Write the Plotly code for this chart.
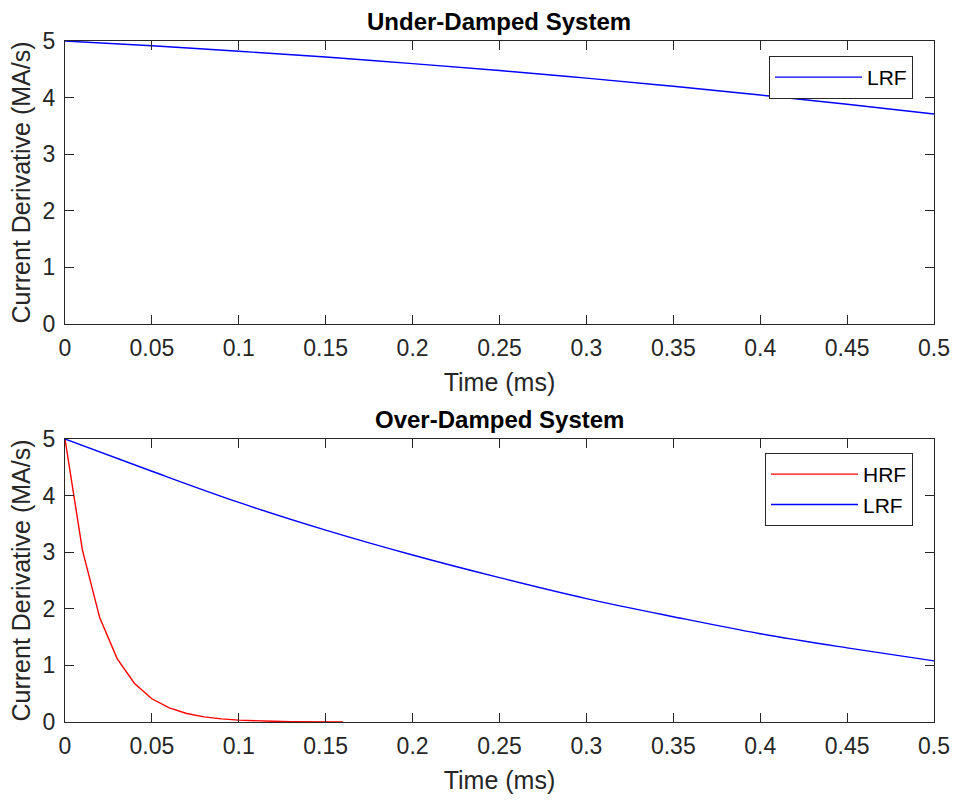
import plotly.graph_objects as go

# Under-damped system (top)
t_under = [0, 0.05, 0.1, 0.15, 0.2, 0.25, 0.3, 0.35, 0.4, 0.45, 0.5]
lrf_under = [5.0, 4.915, 4.82, 4.716, 4.60, 4.478, 4.344, 4.20, 4.046, 3.883, 3.71]

# Over-damped system (bottom)
t_over_lrf = [0, 0.05, 0.1, 0.15, 0.2, 0.25, 0.3, 0.35, 0.4, 0.45, 0.5]
lrf_over = [5.0, 4.43, 3.88, 3.39, 2.95, 2.55, 2.18, 1.86, 1.56, 1.31, 1.08]

t_hrf = [0, 0.01, 0.02, 0.03, 0.04, 0.05, 0.06, 0.07, 0.08, 0.09, 0.10,
         0.11, 0.12, 0.13, 0.14, 0.15, 0.16]
hrf_over = [5.0, 3.04, 1.84, 1.12, 0.68, 0.41, 0.25, 0.15, 0.09, 0.055, 0.034,
            0.02, 0.012, 0.0075, 0.0046, 0.0028, 0.0017]

x_ticks = [0, 0.05, 0.1, 0.15, 0.2, 0.25, 0.3, 0.35, 0.4, 0.45, 0.5]
x_ticktext = ["0", "0.05", "0.1", "0.15", "0.2", "0.25", "0.3", "0.35", "0.4", "0.45", "0.5"]
y_ticks = [0, 1, 2, 3, 4, 5]

titles = ["Under-Damped System", "Over-Damped System"]
x_label = "Time (ms)"
y_label = "Current Derivative (MA/s)"

FONT = "Liberation Sans, Arial, sans-serif"
AX = "#262626"

fig = go.Figure()
fig.add_trace(go.Scatter(x=t_under, y=lrf_under, mode="lines", name="LRF",
                         line=dict(color="#0000FF", width=1.4, shape="spline"),
                         xaxis="x", yaxis="y", legend="legend", showlegend=True))
fig.add_trace(go.Scatter(x=t_hrf, y=hrf_over, mode="lines", name="HRF",
                         line=dict(color="#FF0000", width=1.4),
                         xaxis="x2", yaxis="y2", legend="legend2", showlegend=True))
fig.add_trace(go.Scatter(x=t_over_lrf, y=lrf_over, mode="lines", name="LRF",
                         line=dict(color="#0000FF", width=1.4, shape="spline"),
                         xaxis="x2", yaxis="y2", legend="legend2", showlegend=True))

xd = [65 / 955, 934 / 955]
yd1 = [1 - 324 / 800, 1 - 41 / 800]
yd2 = [1 - 722 / 800, 1 - 439 / 800]

def xaxis(domain, anchor):
    return dict(domain=domain, anchor=anchor, range=[0, 0.5], automargin=False,
                tickvals=x_ticks, ticktext=x_ticktext,
                ticks="inside", ticklen=9, tickcolor=AX, tickwidth=1.3,
                showline=True, linecolor=AX, linewidth=1, mirror="ticks",
                showgrid=False, zeroline=False, ticklabelstandoff=3,
                tickfont=dict(family=FONT, size=23, color=AX),
                title=dict(text=x_label, font=dict(family=FONT, size=25, color=AX), standoff=13))

def yaxis(domain, anchor):
    return dict(domain=domain, anchor=anchor, range=[0, 5], automargin=False,
                tickvals=y_ticks,
                ticks="inside", ticklen=9, tickcolor=AX, tickwidth=1.3,
                showline=True, linecolor=AX, linewidth=1, mirror="ticks",
                showgrid=False, zeroline=False, ticklabelstandoff=4,
                tickfont=dict(family=FONT, size=23, color=AX),
                title=dict(text=y_label, font=dict(family=FONT, size=25, color=AX), standoff=4))

leg_common = dict(bgcolor="white", bordercolor=AX, borderwidth=1,
                  font=dict(family=FONT, size=21, color="black"),
                  xanchor="right", yanchor="top", tracegroupgap=0, itemwidth=87)

fig.update_layout(
    width=955, height=800,
    margin=dict(l=0, r=0, t=0, b=0),
    paper_bgcolor="white", plot_bgcolor="white",
    showlegend=True,
    xaxis=xaxis(xd, "y"), yaxis=yaxis(yd1, "x"),
    xaxis2=xaxis(xd, "y2"), yaxis2=yaxis(yd2, "x2"),
    legend=dict(x=913 / 955, y=1 - 56 / 800, **leg_common),
    legend2=dict(x=913 / 955, y=1 - 453 / 800, **leg_common),
    annotations=[
        dict(text="<b>" + titles[0] + "</b>", x=(xd[0] + xd[1]) / 2, y=1 - 22 / 800,
             xref="paper", yref="paper", showarrow=False, yanchor="middle",
             font=dict(family=FONT, size=24, color="black")),
        dict(text="<b>" + titles[1] + "</b>", x=(xd[0] + xd[1]) / 2, y=1 - 419 / 800,
             xref="paper", yref="paper", showarrow=False, yanchor="middle",
             font=dict(family=FONT, size=24, color="black")),
    ],
)

fig.write_html("out.html")
